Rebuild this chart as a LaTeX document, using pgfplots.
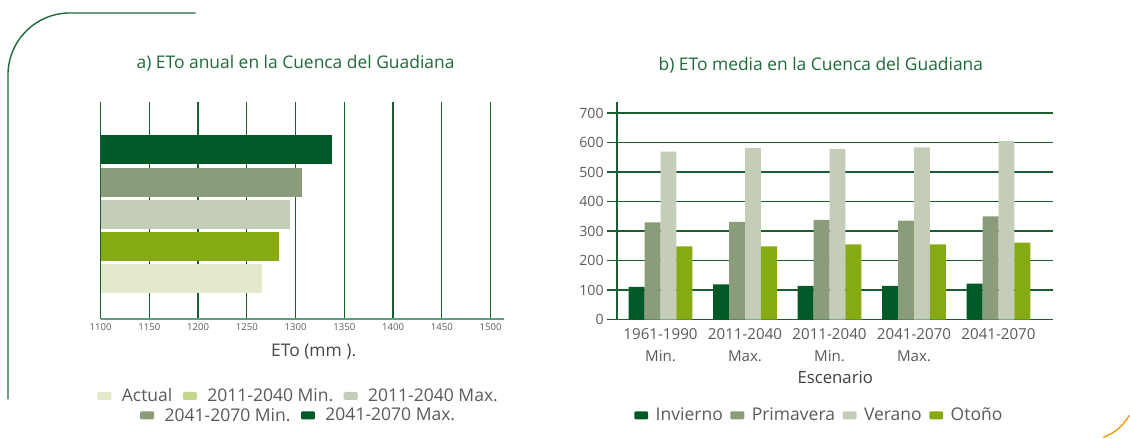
\documentclass[border=0pt]{standalone}
\usepackage{fontspec}
\setmainfont{Open Sans}
\usepackage{pgfplots}
\pgfplotsset{compat=1.18}
\definecolor{cDark}{HTML}{005A28}
\definecolor{cPrim}{HTML}{8A9C7A}
\definecolor{cVer}{HTML}{C4CDB8}
\definecolor{cOto}{HTML}{86AA14}
\definecolor{cAct}{HTML}{E2EACB}
\definecolor{cMinLeg}{HTML}{C6D68E}
\definecolor{cGrid}{HTML}{1B5E30}
\definecolor{cBase}{HTML}{5C9E80}
\definecolor{cText}{HTML}{5A5A5A}
\definecolor{cTitle}{HTML}{1E6A38}
\definecolor{cOrange}{HTML}{F39C12}

\pgfplotsset{
  swatch/.style={legend image code/.code={
      \fill[##1,draw=none,rounded corners=1.2bp] (0bp,-4bp) rectangle (14bp,4bp);}},
  legfont/.style={font=\fontsize{17.6}{20}\selectfont, text=cText},
}

\begin{document}
\begin{tikzpicture}
\path (0bp,0bp) rectangle (1130bp,438bp);
% decorative frame
\draw[cTitle,line width=1.4bp,rounded corners=62bp] (196bp,425bp) -- (8bp,425bp) -- (8bp,38bp);
\draw[cOrange,line width=1.4bp] (1105bp,0bp) to[bend right=18] (1131bp,22bp);

% ---------- a) annual ETo ----------
\begin{axis}[
  at={(100.7bp,119bp)}, anchor=south west, scale only axis,
  width=404.3bp, height=217bp,
  xmin=1100, xmax=1514, ymin=-0.242, ymax=6.497,
  xtick={1100,1150,...,1500},
  ytick=\empty,
  axis x line*=bottom, axis y line*=left,
  x axis line style={cBase,line width=2bp,-},
  y axis line style={draw=none},
  major tick length=0pt,
  xmajorgrids, grid style={cGrid,line width=1.2bp},
  /pgf/number format/assume math mode=true,
  /pgf/number format/1000 sep={},
  xticklabel style={font=\fontsize{9.6}{11}\selectfont, text=cText, yshift=-2bp},
  xlabel={ETo (mm ).},
  x label style={at={(axis description cs:0.528,0)}, anchor=center, yshift=-33bp,
    font=\fontsize{17.5}{20}\selectfont, text=cText!80!black},
  title={a) ETo anual en la Cuenca del Guadiana},
  title style={at={(axis description cs:0.483,1.15)}, anchor=center,
    font=\fontsize{17.5}{20}\selectfont, text=cTitle},
  legend columns=3,
  legend style={at={(axis description cs:0.495,-0.357)}, anchor=center,
    draw=none, fill=none, legfont, column sep=5bp,
    nodes={inner xsep=5.5bp}},
]
\addplot[xbar, bar width=29bp, bar shift=0pt, fill=cAct, draw=none, forget plot]
  coordinates {(1266,1)};
\addplot[xbar, bar width=29bp, bar shift=0pt, fill=cOto, draw=none, forget plot]
  coordinates {(1283,2)};
\addplot[xbar, bar width=29bp, bar shift=0pt, fill=cVer, draw=none, forget plot]
  coordinates {(1294,3)};
\addplot[xbar, bar width=29bp, bar shift=0pt, fill=cPrim, draw=none, forget plot]
  coordinates {(1307,4)};
\addplot[xbar, bar width=29bp, bar shift=0pt, fill=cDark, draw=none, forget plot]
  coordinates {(1337,5)};
\addlegendimage{swatch, fill=cAct}
\addlegendentry{Actual}
\addlegendimage{swatch, fill=cMinLeg}
\addlegendentry{2011-2040 Min.}
\addlegendimage{swatch, fill=cVer}
\addlegendentry{2011-2040 Max.}
\end{axis}

% second legend row for a)
\begin{axis}[
  at={(100.7bp,119bp)}, anchor=south west, scale only axis,
  width=404.3bp, height=217bp,
  xmin=0, xmax=1, ymin=0, ymax=1, hide axis,
  legend columns=2,
  legend style={at={(axis description cs:0.495,-0.447)}, anchor=center,
    draw=none, fill=none, legfont, column sep=5bp,
    nodes={inner xsep=5.5bp}},
]
\addlegendimage{swatch, fill=cPrim}
\addlegendentry{2041-2070 Min.}
\addlegendimage{swatch, fill=cDark}
\addlegendentry{2041-2070 Max.}
\end{axis}

% ---------- b) seasonal ETo ----------
\begin{axis}[
  at={(618bp,118bp)}, anchor=south west, scale only axis,
  width=437bp, height=218bp,
  xmin=-0.514, xmax=4.65, ymin=0, ymax=738,
  ybar, bar width=16bp,
  xtick={0,1,2,3,4},
  xticklabels={{1961-1990\\Min.},{2011-2040\\Max.},{2011-2040\\Min.},{2041-2070\\Max.},{2041-2070}},
  ytick={0,100,...,700},
  axis x line*=bottom, axis y line*=left,
  axis line style={cGrid,line width=1.3bp,-},
  x tick style={draw=none},
  y tick style={cGrid,line width=1.2bp},
  tick align=outside, major tick length=10bp,
  ymajorgrids, grid style={cGrid,line width=1.2bp},
  /pgf/number format/assume math mode=true,
  xticklabel style={font=\fontsize{15.2}{22}\selectfont, text=cText, align=center, yshift=4bp},
  yticklabel style={font=\fontsize{14.2}{16}\selectfont, text=cText},
  xlabel={Escenario},
  x label style={at={(axis description cs:0.5,0)}, anchor=center, yshift=-58bp,
    font=\fontsize{16.8}{19}\selectfont, text=cText!70!black},
  title={b) ETo media en la Cuenca del Guadiana},
  title style={at={(axis description cs:0.467,1.14)}, anchor=center,
    font=\fontsize{17.5}{20}\selectfont, text=cTitle},
  legend columns=4,
  legend style={at={(axis description cs:0.467,-0.44)}, anchor=center,
    draw=none, fill=none, legfont, column sep=2.5bp,
    nodes={inner xsep=5bp}},
]
\addplot[fill=cDark, draw=none, bar shift=-24bp, swatch]
  coordinates {(0,111) (1,119) (2,114) (3,114) (4,122)};
\addlegendentry{Invierno}
\addplot[fill=cPrim, draw=none, bar shift=-8bp, swatch]
  coordinates {(0,329) (1,331) (2,338) (3,335) (4,350)};
\addlegendentry{Primavera}
\addplot[fill=cVer, draw=none, bar shift=8bp, swatch]
  coordinates {(0,569) (1,581) (2,578) (3,584) (4,605)};
\addlegendentry{Verano}
\addplot[fill=cOto, draw=none, bar shift=24bp, swatch]
  coordinates {(0,248) (1,248) (2,255) (3,255) (4,261)};
\addlegendentry{Otoño}
\end{axis}
\end{tikzpicture}
\end{document}
